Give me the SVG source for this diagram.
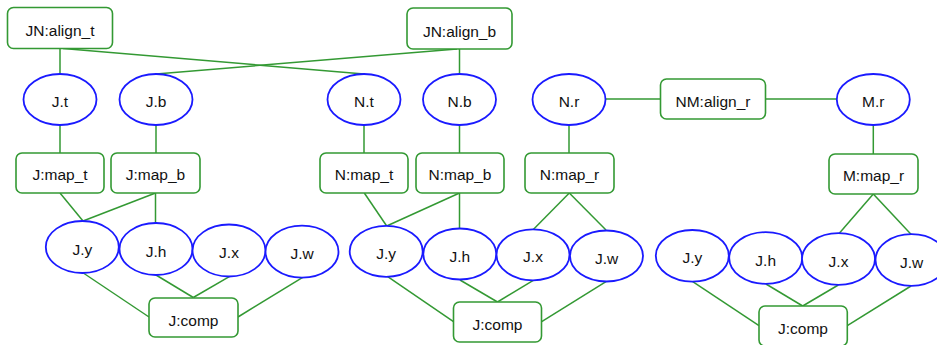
<svg xmlns="http://www.w3.org/2000/svg" width="937" height="345" viewBox="0 0 937 345">
<style>
.e{stroke:#339933;stroke-width:1.5;fill:none}
.r rect{fill:#fff;stroke:#339933;stroke-width:1.6}
.o ellipse{fill:#fff;stroke:#1a1aff;stroke-width:1.8}
text{font-family:"Liberation Sans",Arial,sans-serif;font-size:15.5px;fill:#111;text-anchor:middle}
</style>
<rect width="937" height="345" fill="#fff"/>
<g id="edges">
<line class="e" x1="60" y1="48.5" x2="60" y2="74"/>
<line class="e" x1="63" y1="48.5" x2="364" y2="74"/>
<line class="e" x1="156" y1="74" x2="457" y2="49"/>
<line class="e" x1="459.5" y1="49" x2="459.5" y2="74"/>
<line class="e" x1="605.5" y1="99" x2="660.5" y2="99"/>
<line class="e" x1="765.5" y1="99" x2="836.8" y2="99"/>
<line class="e" x1="873.3" y1="125" x2="873.3" y2="154"/>
<line class="e" x1="60" y1="125" x2="60" y2="153"/>
<line class="e" x1="156" y1="125" x2="156" y2="153"/>
<line class="e" x1="364" y1="125" x2="364" y2="153"/>
<line class="e" x1="459.5" y1="125" x2="459.5" y2="153"/>
<line class="e" x1="569" y1="125" x2="569" y2="153"/>
<line class="e" x1="60" y1="193" x2="83" y2="221"/>
<line class="e" x1="155.5" y1="193" x2="83" y2="221"/>
<line class="e" x1="155.5" y1="193" x2="155.5" y2="223"/>
<line class="e" x1="83.3" y1="273" x2="149" y2="317"/>
<line class="e" x1="156" y1="275" x2="193.3" y2="297.5"/>
<line class="e" x1="229.3" y1="276.7" x2="193.3" y2="297.5"/>
<line class="e" x1="302.7" y1="277.3" x2="238" y2="317"/>
<line class="e" x1="364.3" y1="193" x2="386.7" y2="226"/>
<line class="e" x1="459.5" y1="193" x2="386.7" y2="226"/>
<line class="e" x1="459.5" y1="193" x2="459.5" y2="228.5"/>
<line class="e" x1="569.3" y1="193" x2="533.3" y2="229.5"/>
<line class="e" x1="569.3" y1="193" x2="606" y2="230"/>
<line class="e" x1="387.7" y1="276.7" x2="453.5" y2="321.7"/>
<line class="e" x1="460" y1="280" x2="497.5" y2="302"/>
<line class="e" x1="533.3" y1="280.3" x2="497.5" y2="302"/>
<line class="e" x1="606" y1="281.7" x2="541.7" y2="321.7"/>
<line class="e" x1="873.3" y1="194" x2="839.3" y2="233.3"/>
<line class="e" x1="873.3" y1="194" x2="911" y2="234.3"/>
<line class="e" x1="692.7" y1="281.7" x2="759" y2="325.7"/>
<line class="e" x1="766" y1="284" x2="802.7" y2="306"/>
<line class="e" x1="838.3" y1="285" x2="802.7" y2="306"/>
<line class="e" x1="911" y1="286" x2="847.3" y2="325.7"/>
</g>
<g id="JN_align_t" class="r"><rect x="7.5" y="7.5" width="105" height="41" rx="6"/><text x="60" y="36">JN:align_t</text></g>
<g id="JN_align_b" class="r"><rect x="407" y="8" width="105" height="41" rx="6"/><text x="459.5" y="36.5">JN:align_b</text></g>
<g id="NM_align_r" class="r"><rect x="660.5" y="79" width="105" height="40" rx="6"/><text x="713" y="106.5">NM:align_r</text></g>
<g id="J_t" class="o"><ellipse cx="60" cy="99.5" rx="36.5" ry="25.5"/><text x="60" y="106.5">J.t</text></g>
<g id="J_b" class="o"><ellipse cx="156" cy="99.5" rx="36.5" ry="25.5"/><text x="156" y="106.5">J.b</text></g>
<g id="N_t" class="o"><ellipse cx="364" cy="99.5" rx="36.5" ry="25.5"/><text x="364" y="106.5">N.t</text></g>
<g id="N_b" class="o"><ellipse cx="459.5" cy="99.5" rx="36.5" ry="25.5"/><text x="459.5" y="106.5">N.b</text></g>
<g id="N_r" class="o"><ellipse cx="569" cy="99.5" rx="36.5" ry="25.5"/><text x="569" y="106.5">N.r</text></g>
<g id="M_r" class="o"><ellipse cx="873.3" cy="99.5" rx="36.5" ry="25.5"/><text x="873.3" y="106.5">M.r</text></g>
<g id="J_map_t" class="r"><rect x="16" y="153" width="88" height="40" rx="6"/><text x="60" y="180">J:map_t</text></g>
<g id="J_map_b" class="r"><rect x="111" y="153" width="89" height="40" rx="6"/><text x="155.5" y="180">J:map_b</text></g>
<g id="N_map_t" class="r"><rect x="320" y="153" width="88" height="40" rx="6"/><text x="364" y="180">N:map_t</text></g>
<g id="N_map_b" class="r"><rect x="416" y="153" width="88" height="40" rx="6"/><text x="460" y="180">N:map_b</text></g>
<g id="N_map_r" class="r"><rect x="525" y="153" width="89" height="40" rx="6"/><text x="569.5" y="180">N:map_r</text></g>
<g id="M_map_r" class="r"><rect x="829" y="154" width="89" height="40" rx="6"/><text x="873.5" y="181">M:map_r</text></g>
<g id="J1_y" class="o"><ellipse cx="82.3" cy="247" rx="36.5" ry="26"/><text x="82.3" y="254.5">J.y</text></g>
<g id="J1_h" class="o"><ellipse cx="156" cy="249" rx="36.5" ry="26"/><text x="156" y="256.5">J.h</text></g>
<g id="J1_x" class="o"><ellipse cx="229" cy="250.5" rx="36.5" ry="26"/><text x="229" y="258">J.x</text></g>
<g id="J1_w" class="o"><ellipse cx="302" cy="251.7" rx="36.5" ry="26"/><text x="302" y="259.2">J.w</text></g>
<g id="J1_comp" class="r"><rect x="149" y="298" width="89" height="39" rx="6"/><text x="193.5" y="325.5">J:comp</text></g>
<g id="J2_y" class="o"><ellipse cx="386.2" cy="251.3" rx="36.5" ry="25.5"/><text x="386.2" y="258.8">J.y</text></g>
<g id="J2_h" class="o"><ellipse cx="459.8" cy="254" rx="36.5" ry="25.5"/><text x="459.8" y="261.5">J.h</text></g>
<g id="J2_x" class="o"><ellipse cx="533" cy="254.8" rx="36.5" ry="25.5"/><text x="533" y="262.3">J.x</text></g>
<g id="J2_w" class="o"><ellipse cx="606.5" cy="256" rx="36.5" ry="25.5"/><text x="606.5" y="263.5">J.w</text></g>
<g id="J2_comp" class="r"><rect x="453.5" y="302" width="88" height="40" rx="6"/><text x="497.5" y="329.5">J:comp</text></g>
<g id="J3_y" class="o"><ellipse cx="692.3" cy="255.8" rx="36.5" ry="25.8"/><text x="692.3" y="263.3">J.y</text></g>
<g id="J3_h" class="o"><ellipse cx="765.7" cy="258" rx="36.5" ry="25.8"/><text x="765.7" y="265.5">J.h</text></g>
<g id="J3_x" class="o"><ellipse cx="838.5" cy="259" rx="36.5" ry="25.8"/><text x="838.5" y="266.5">J.x</text></g>
<g id="J3_w" class="o"><ellipse cx="911.5" cy="260" rx="36" ry="25.8"/><text x="911.5" y="267.5">J.w</text></g>
<g id="J3_comp" class="r"><rect x="759" y="306" width="88.3" height="40" rx="6"/><text x="803" y="333.5">J:comp</text></g>
</svg>
